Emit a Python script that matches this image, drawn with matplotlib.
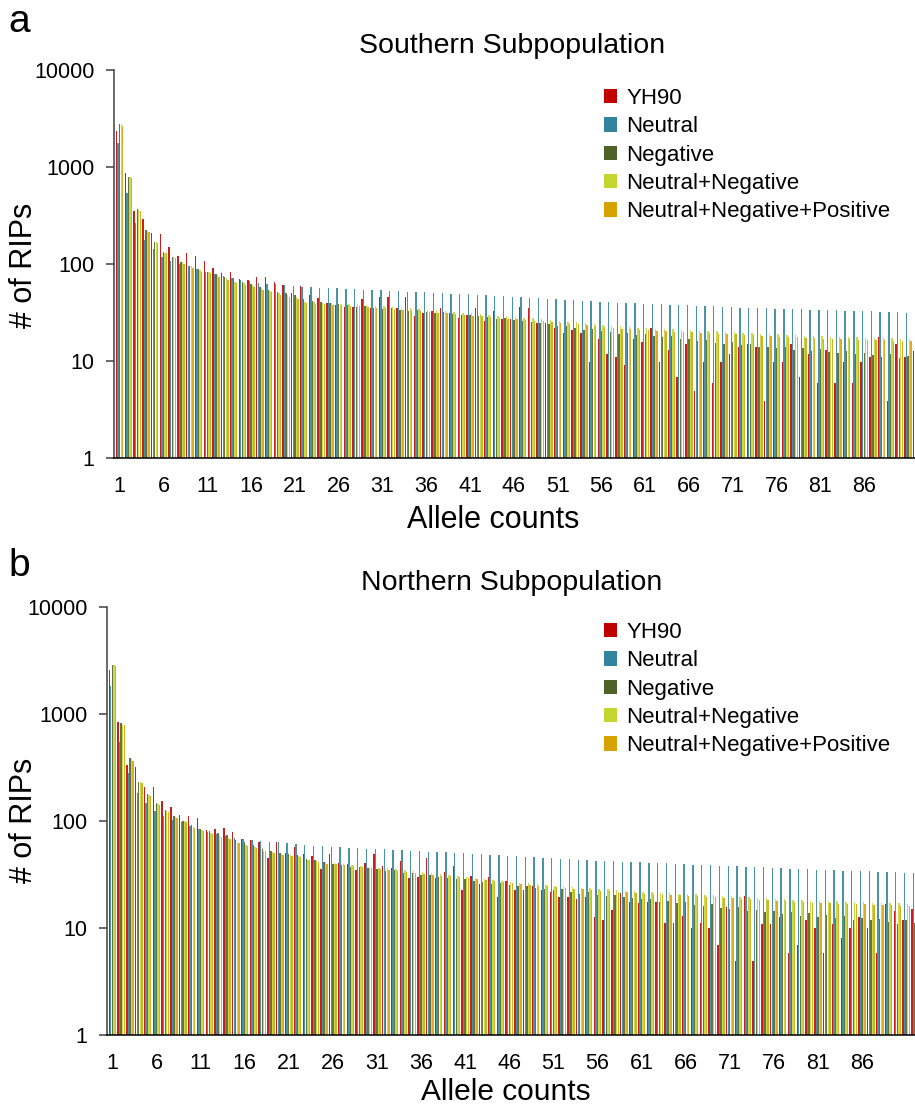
import matplotlib
matplotlib.use("Agg")
import matplotlib.pyplot as plt
from matplotlib.patches import Patch
from matplotlib.ticker import FixedLocator, FuncFormatter
import numpy as np

plt.rcParams['font.family'] = ['Liberation Sans', 'DejaVu Sans']

series_names = ['YH90', 'Neutral', 'Negative', 'Neutral+Negative', 'Neutral+Negative+Positive']
colors = ['#C00000', '#31849B', '#4F6228', '#C4D530', '#D6A200']

allele_counts = list(range(1, 93))
tick_counts = list(range(1, 87, 5))

# --- a: Southern subpopulation ---
south_yh90 = [2350, 861, 352, 288, 207, 203, 149, 121, 129, 121, 107, 90, 80, 82, 70, 68, 73, 73, 65, 61,
              50, 60, 48, 45, 40, 38, 36,
              35.8, 43.6, 35.0, 46.0, 45.6, 35.6, 45.6, 29.3, 31.5, 32.7, 35.0, 31.0, 28.0, 29.9, 35.0, 25.8,
              32.7, 26.9, 26.9, 35.8, 35.0, 24.4, 24.4, 21.7, 19.6, 20.9, 19.6, 9.8, 17.0, 11.8, 10.9, 9.0,
              17.0, 15.8,
              21.7, 9.8, 13.0, 6.9, 15.0, 4.9, 9.8, 5.9, 9.8, 11.8, 14.1, 15.0, 14.1, 3.9, 9.8, 9.8, 15.0, 6.9,
              11.8, 5.9, 13.0, 5.9, 9.8, 5.9, 9.8, 10.9, 17.8, 3.9, 15.0, 10.9, 12.8]
south_neutral = [1750, 536, 267, 177, 142, 118, 107, 100, 95, 88, 83, 79, 76, 72, 69, 67, 64, 62.5, 61.5, 60.5,
                 59.5, 58.5, 58, 57, 56.5, 56, 55.5,
                 55, 54.5, 54, 53.5, 53, 52.5, 52, 51.5, 51, 50.5, 50, 49.5, 49, 48.5, 48, 47.5, 47, 46.5, 46,
                 45.5, 45, 44.5, 44, 43.5, 43, 42.5, 42, 41.5, 41, 40.5, 40, 39.6, 39.2,
                 38.9, 38.6, 38.3, 38.0, 37.7, 37.4, 37.1, 36.8, 36.5, 36.2, 35.9, 35.6, 35.3, 35.0, 34.8, 34.6,
                 34.4, 34.2, 34.0, 33.8, 33.6, 33.4, 33.2, 33.0, 32.8, 32.6, 32.4, 32.2, 32.0, 31.8, 31.6, 31.4]
south_negative = [2750, 783, 369, 224, 170, 134, 119, 104, 95, 88, 83, 79, 74, 71, 66, 62, 58, 54, 52, 50,
                  48, 44, 42, 41, 40, 38.5, 37.5,
                  36.1, 36.5, 35.0, 34.5, 35.2, 33.8, 33.0, 33.5, 32.0, 31.5, 31.8, 30.5, 30.0, 29.6, 29.0, 28.5,
                  27.0, 27.5, 26.4, 26.0, 25.0, 24.8, 24.0, 23.2, 22.8, 22.0, 21.0, 21.5, 20.5, 20.0, 19.0, 19.5,
                  18.5,
                  19.0, 18.0, 17.5, 18.2, 16.8, 17.0, 16.0, 16.5, 15.5, 15.0, 15.8, 14.5, 14.8, 14.0, 14.1, 13.5,
                  14.0, 13.0, 13.5, 12.8, 13.2, 12.5, 12.0, 12.6, 11.8, 12.0, 11.5, 11.0, 11.8, 10.8, 11.2, 10.5]
south_neu_neg = [2750, 783, 361, 220, 167, 130, 119, 104, 95, 86, 83, 77, 71, 66, 63, 61, 56, 53, 50, 48,
                 46, 41, 40.5, 40, 39.5, 39, 38.5,
                 38.4, 37.8, 37.2, 36.7, 36.0, 35.5, 35.0, 34.3, 33.8, 33.2, 32.6, 32.0, 31.5, 31.0, 30.4, 29.9,
                 29.4, 28.9, 28.5, 28.0, 27.5, 27.0, 26.5, 26.0, 25.5, 25.0, 24.5, 24.0, 23.6, 23.2, 22.8, 22.4,
                 22.0,
                 21.8, 21.6, 21.4, 21.2, 21.0, 20.8, 20.6, 20.4, 20.2, 20.0, 19.8, 19.6, 19.4, 19.2, 19.0, 18.8,
                 18.6, 18.4, 18.2, 18.0, 17.9, 17.8, 17.7, 17.6, 17.5, 17.4, 17.3, 17.2, 17.1, 17.0, 16.9, 16.8]
south_neu_neg_pos = [2670, 764, 352, 215, 163, 129, 116, 101, 92, 83, 80, 74, 69, 64, 61, 58, 54, 51, 48, 46,
                     44, 39.5, 39, 38.5, 38, 37.5, 37,
                     36.6, 36.0, 35.4, 34.9, 34.2, 33.7, 33.2, 32.6, 32.1, 31.5, 30.9, 30.4, 29.9, 29.4, 28.9,
                     28.4, 27.9, 27.4, 27.0, 26.6, 26.1, 25.6, 25.2, 24.7, 24.2, 23.8, 23.3, 22.8, 22.4, 22.0,
                     21.6, 21.3, 20.9,
                     20.7, 20.5, 20.3, 20.1, 19.9, 19.7, 19.5, 19.3, 19.1, 19.0, 18.8, 18.6, 18.4, 18.2, 18.0,
                     17.8, 17.6, 17.5, 17.3, 17.1, 17.0, 16.9, 16.8, 16.7, 16.6, 16.5, 16.4, 16.3, 16.2, 16.1,
                     16.0, 15.9]

# --- b: Northern subpopulation ---
north_yh90 = [2580, 847, 334, 318, 206, 206, 154, 136, 114, 111, 106, 82, 85, 86, 79, 67.5, 66.5, 63, 44.8, 63,
              50.6, 56.8, 49, 47, 35.4, 49,
              40.2, 39.6, 34.8, 40.2, 48.9, 38.0, 36.6, 42.6, 29.1, 30.2, 44.8, 29.1, 33.6, 38.0, 22.6, 30.7,
              25.8, 29.8, 19.6, 27.7, 22.6, 22.6, 24.7, 22.6, 21.9, 19.6, 19.6, 18.5, 19.6, 12.7, 11.9, 14.7,
              21.1,
              17.6, 17.0, 17.6, 17.6, 11.1, 11.1, 12.9, 9.9, 11.1, 9.9, 6.9, 15.8, 4.9,
              19.9, 4.9, 10.9, 10.9, 12.8, 5.9, 6.9, 11.9, 9.9, 5.9, 10.9, 8.0, 9.9, 12.8, 9.9, 5.9, 16.7,
              14.5, 12.0, 15.0]
north_neutral = [1827, 551, 279, 181, 146, 125, 111, 103, 98.6, 89.8, 83.6, 79, 75, 72, 70, 68.5, 67, 65.5,
                 64, 63, 62, 61, 60, 59, 58, 57,
                 56.8, 56.3, 55.8, 55.3, 54.8, 54.3, 53.8, 53.3, 52.8, 52.3, 51.8, 51.3, 50.8, 50.3, 49.8, 49.3,
                 48.8, 48.3, 47.8, 47.3, 46.8, 46.3, 45.8, 45.3, 44.8, 44.3, 43.8, 43.4, 43.0, 42.6, 42.2, 41.9,
                 41.6,
                 41.3, 41.0, 40.7, 40.4, 40.1, 39.8, 39.5, 39.2, 38.9, 38.6, 38.3, 38.0, 37.7, 37.4, 37.1, 36.8,
                 36.5, 36.2, 35.9, 35.6, 35.3, 35.0, 34.8, 34.6, 34.4, 34.2, 34.0, 33.8, 33.6, 33.4, 33.2, 33.0,
                 32.8]
north_negative = [2870, 819, 385, 233, 177, 146, 127, 111, 101, 91, 83.6, 81, 77.8, 74, 66.5, 64, 59.7, 54.5,
                  53, 50, 49, 48, 44, 43, 41, 40,
                  38.5, 37.0, 37.5, 36.0, 35.5, 34.0, 34.5, 33.0, 32.5, 31.0, 31.5, 30.0, 29.5, 28.5, 28.8, 27.5,
                  27.0, 26.0, 26.5, 25.0, 24.5, 24.8, 23.5, 23.0, 22.5, 23.0, 21.5, 21.0, 21.8, 20.5, 20.0, 20.5,
                  19.5,
                  19.0, 18.5, 18.8, 17.5, 18.0, 17.0, 17.5, 16.5, 16.0, 16.8, 15.5, 15.0, 15.8, 14.5, 14.8, 14.0,
                  14.5, 13.5, 14.2, 13.0, 13.8, 12.8, 13.2, 12.5, 13.0, 12.0, 12.5, 11.8, 12.2, 11.5, 11.0, 11.8,
                  11.2]
north_neu_neg = [2870, 794, 381, 229, 175, 144, 125, 110, 100, 88, 82, 77.8, 74, 70, 64, 59.7, 57.5, 53, 51.5,
                 49, 47.6, 47, 43.4, 42.2, 41, 40.5,
                 39.5, 38.8, 38.1, 37.4, 36.7, 36.0, 35.3, 34.6, 33.9, 33.2, 32.5, 31.8, 31.1, 30.5, 29.9, 29.3,
                 28.7, 28.1, 27.6, 27.1, 26.6, 26.1, 25.7, 25.3, 24.9, 24.5, 24.1, 23.8, 23.5, 23.2, 22.9, 22.6,
                 22.3,
                 22.0, 21.8, 21.6, 21.4, 21.2, 21.0, 20.8, 20.6, 20.4, 20.2, 20.0, 19.8, 19.6, 19.4, 19.2, 19.0,
                 18.8, 18.6, 18.4, 18.2, 18.0, 17.9, 17.8, 17.7, 17.6, 17.5, 17.4, 17.3, 17.2, 17.1, 17.0, 16.9,
                 16.8]
north_neu_neg_pos = [2810, 794, 366, 226, 172, 142, 122, 107, 97, 86, 81, 75.6, 71, 67.5, 62, 58.5, 55.6, 52,
                     50.6, 48, 47, 46, 43, 41.5, 39.7, 39.7,
                     38.6, 37.9, 37.2, 36.5, 35.8, 35.1, 34.4, 33.7, 33.0, 32.3, 31.6, 30.9, 30.3, 29.7, 29.1,
                     28.5, 27.9, 27.3, 26.8, 26.3, 25.8, 25.3, 24.9, 24.5, 24.1, 23.7, 23.3, 23.0, 22.7, 22.4,
                     22.1, 21.8, 21.5,
                     21.2, 21.0, 20.8, 20.6, 20.4, 20.2, 20.0, 19.8, 19.6, 19.4, 19.2, 19.0, 18.8, 18.6, 18.4,
                     18.2, 18.0, 17.8, 17.6, 17.4, 17.2, 17.1, 17.0, 16.9, 16.8, 16.7, 16.6, 16.5, 16.4, 16.3,
                     16.2, 16.1, 16.0]

W, H = 915, 1108


def px(x, y):
    # pixel position -> figure fraction
    return x / W, 1 - y / H


def draw_panel(ax, data, xlim):
    x = np.array(allele_counts, dtype=float)
    step = 0.176
    ax.set_yscale('log')
    for k, (vals, col) in enumerate(zip(data, colors)):
        ax.bar(x + (k - 2) * step, vals, width=0.155, color=col, linewidth=0, bottom=0, alpha=0.88)
    ax.set_ylim(1, 10000)
    ax.set_xlim(*xlim)
    ax.yaxis.set_major_locator(FixedLocator([1, 10, 100, 1000, 10000]))
    ax.yaxis.set_minor_locator(FixedLocator([]))
    ax.yaxis.set_major_formatter(FuncFormatter(lambda v, _: f"{v:g}"))
    ax.set_xticks(tick_counts)
    ax.set_xticklabels([str(t) for t in tick_counts])
    ax.tick_params(axis='x', length=0, pad=13, labelsize=15.5)
    ax.tick_params(axis='y', length=6, width=1.1, pad=8, labelsize=15.5, color='#404040', direction='out')
    for s in ['top', 'right']:
        ax.spines[s].set_visible(False)
    ax.spines['left'].set_color('#404040')
    ax.spines['left'].set_linewidth(1.1)
    ax.spines['bottom'].set_color('black')
    ax.spines['bottom'].set_linewidth(1.1)
    handles = [Patch(facecolor=c, edgecolor='none') for c in colors]
    return handles


fig = plt.figure(figsize=(W / 100, H / 100), dpi=100)
leg_kw = dict(bbox_transform=fig.transFigure, loc='upper left', frameon=False, fontsize=16,
              handlelength=0.6, handleheight=0.6, handletextpad=0.4, labelspacing=0.33,
              borderpad=0, borderaxespad=0)

# top panel
l, t = px(114, 70)
_, b = px(114, 458)
ax1 = fig.add_axes([l, b, 1 - l, t - b])
h = draw_panel(ax1, [south_yh90, south_neutral, south_negative, south_neu_neg, south_neu_neg_pos], (0.35, 91.8))
ax1.legend(h, series_names, bbox_to_anchor=px(604, 88), **leg_kw)

# bottom panel
l2, t2 = px(107, 607)
_, b2 = px(107, 1035)
ax2 = fig.add_axes([l2, b2, 1 - l2, t2 - b2])
h = draw_panel(ax2, [north_yh90, north_neutral, north_negative, north_neu_neg, north_neu_neg_pos], (0.4, 92.0))
ax2.legend(h, series_names, bbox_to_anchor=px(604, 622), **leg_kw)

# panel letters, titles, axis labels
fig.text(*px(8, 22), 'a', fontsize=28, ha='left', va='center')
fig.text(*px(8, 566), 'b', fontsize=28, ha='left', va='center')
fig.text(*px(512, 46), 'Southern Subpopulation', fontsize=20.5, ha='center', va='center')
fig.text(*px(512, 583), 'Northern Subpopulation', fontsize=20.5, ha='center', va='center')
fig.text(*px(493, 520), 'Allele counts', fontsize=22, ha='center', va='center')
fig.text(*px(506, 1092), 'Allele counts', fontsize=21.5, ha='center', va='center')
fig.text(*px(24, 265), '# of RIPs', fontsize=22, ha='center', va='center', rotation=90)
fig.text(*px(24, 820), '# of RIPs', fontsize=22, ha='center', va='center', rotation=90)

fig.savefig('out.png', dpi=100)
